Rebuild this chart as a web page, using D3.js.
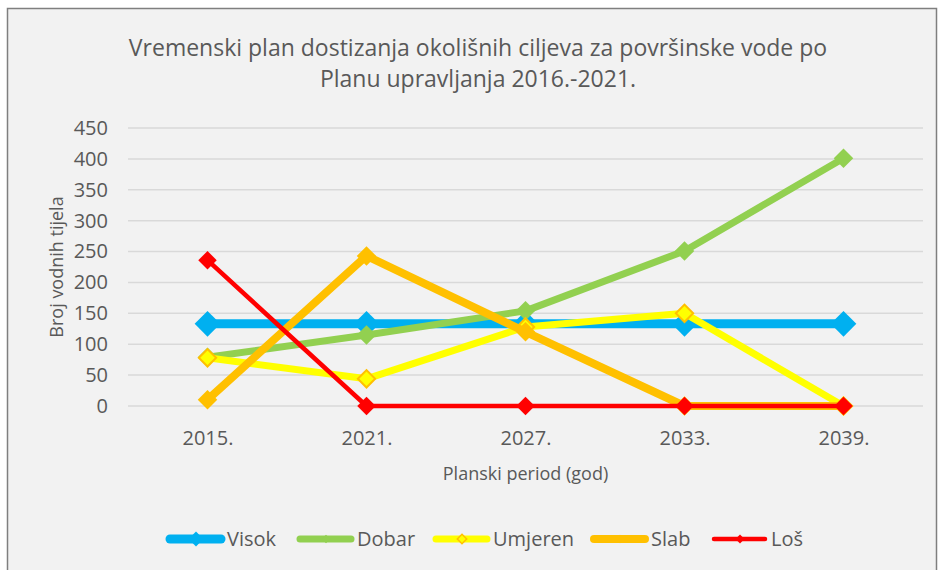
<!DOCTYPE html>
<html>
<head>
<meta charset="utf-8">
<script src="https://cdn.jsdelivr.net/npm/d3@7"></script>
<style>
  body { margin: 0; background: #fff; }
  text { font-family: "Open Sans", sans-serif; fill: #595959; }
</style>
</head>
<body>
<div id="chart"></div>
<script>
var svgWidth = 939;
var svgHeight = 570;

// data
var periods = ["2015.", "2021.", "2027.", "2033.", "2039."];
var seriesNames = ["Visok", "Dobar", "Umjeren", "Slab", "Loš"];
var visok = [133, 133, 133, 133, 133];
var dobar = [79, 115, 154, 251, 401];
var umjeren = [78, 44, 128, 150, 0];
var slab = [10, 243, 120, 0, 0];
var los = [236, 0, 0, 0, 0];
var yTicks = [0, 50, 100, 150, 200, 250, 300, 350, 400, 450];

var margin = { top: 128, right: 16, bottom: 164, left: 128 };
var width = svgWidth - margin.left - margin.right;
var height = svgHeight - margin.top - margin.bottom;

// look of each series (legendSize = marker area in the legend)
var styles = [
  { color: "#00b0f0", lw: 9, size: 330, legendSize: 110, fill: "#00b0f0", stroke: "none" },
  { color: "#92d050", lw: 7, size: 190, legendSize: 36, fill: "#92d050", stroke: "none" },
  { color: "#ffff00", lw: 7, size: 150, legendSize: 45, fill: "#ffff00", stroke: "#ffc000" },
  { color: "#ffc000", lw: 8, size: 190, legendSize: 36, fill: "#ffc000", stroke: "none" },
  { color: "#ff0000", lw: 4.5, size: 170, legendSize: 40, fill: "#ff0000", stroke: "none" }
];
var allValues = [visok, dobar, umjeren, slab, los];

var series = seriesNames.map(function (name, i) {
  return { name: name, values: allValues[i], style: styles[i] };
});

var svg = d3.select("#chart")
  .append("svg")
  .attr("width", svgWidth)
  .attr("height", svgHeight);

// chart area frame
svg.append("rect")
  .attr("x", 7.5)
  .attr("y", 8.5)
  .attr("width", 929)
  .attr("height", 570)
  .attr("fill", "#f2f2f2")
  .attr("stroke", "#7f7f7f")
  .attr("stroke-width", 1.5);

// title
var title = svg.append("text")
  .attr("text-anchor", "middle")
  .style("font-size", "23px");
title.append("tspan").attr("x", 478).attr("y", 56)
  .text("Vremenski plan dostizanja okolišnih ciljeva za površinske vode po");
title.append("tspan").attr("x", 478).attr("y", 87)
  .text("Planu upravljanja 2016.-2021.");

var chartGroup = svg.append("g")
  .attr("transform", `translate(${margin.left}, ${margin.top})`);

var xScale = d3.scalePoint()
  .domain(periods)
  .range([0, width])
  .padding(0.5);

var yScale = d3.scaleLinear()
  .domain([0, 450])
  .range([height, 0]);

// gridlines
chartGroup.selectAll(".grid")
  .data(yTicks)
  .enter()
  .append("line")
  .attr("x1", 0)
  .attr("x2", width)
  .attr("y1", d => yScale(d))
  .attr("y2", d => yScale(d))
  .attr("stroke", "#d9d9d9")
  .attr("stroke-width", 1.5);

// axes (labels only)
var leftAxis = d3.axisLeft(yScale).tickValues(yTicks).tickSize(0).tickPadding(20);
var bottomAxis = d3.axisBottom(xScale).tickSize(0).tickPadding(25);

var yAxisG = chartGroup.append("g").call(leftAxis);
var xAxisG = chartGroup.append("g")
  .attr("transform", `translate(0, ${height})`)
  .call(bottomAxis);

[yAxisG, xAxisG].forEach(function (g) {
  g.select(".domain").remove();
  g.selectAll("text")
    .style("font-size", "20px")
    .style("font-family", "'Open Sans', sans-serif")
    .attr("fill", "#595959");
});

// axis titles
chartGroup.append("text")
  .attr("transform", "rotate(-90)")
  .attr("x", -height / 2)
  .attr("y", -65)
  .attr("text-anchor", "middle")
  .style("font-size", "18px")
  .text("Broj vodnih tijela");

chartGroup.append("text")
  .attr("x", width / 2)
  .attr("y", height + 74)
  .attr("text-anchor", "middle")
  .style("font-size", "18px")
  .text("Planski period (god)");

// lines
var line = d3.line()
  .x((d, i) => xScale(periods[i]))
  .y(d => yScale(d));

var diamond = d3.symbol().type(d3.symbolSquare);

series.forEach(function (s) {
  chartGroup.append("path")
    .datum(s.values)
    .attr("d", line)
    .attr("fill", "none")
    .attr("stroke", s.style.color)
    .attr("stroke-width", s.style.lw)
    .attr("stroke-linejoin", "round");

  chartGroup.selectAll(null)
    .data(s.values)
    .enter()
    .append("path")
    .attr("d", diamond.size(s.style.size)())
    .attr("transform", (d, i) => `translate(${xScale(periods[i])}, ${yScale(d)}) rotate(45)`)
    .attr("fill", s.style.fill)
    .attr("stroke", s.style.stroke)
    .attr("stroke-width", 2);
});

// legend
var legendX = [167, 297, 433, 591, 711];
var legendY = 539;
var legend = svg.selectAll(".legend")
  .data(series)
  .enter()
  .append("g")
  .attr("transform", (d, i) => `translate(${legendX[i]}, ${legendY})`);

legend.append("line")
  .attr("x1", 3)
  .attr("x2", 54)
  .attr("stroke", d => d.style.color)
  .attr("stroke-width", d => d.style.lw)
  .attr("stroke-linecap", "round");

legend.append("path")
  .attr("d", d => diamond.size(d.style.legendSize)())
  .attr("transform", "translate(29, 0) rotate(45)")
  .attr("fill", d => d.style.fill)
  .attr("stroke", d => d.style.stroke)
  .attr("stroke-width", 1.5);

legend.append("text")
  .attr("x", 60)
  .attr("y", 7)
  .style("font-size", "20px")
  .text(d => d.name);
</script>
</body>
</html>
